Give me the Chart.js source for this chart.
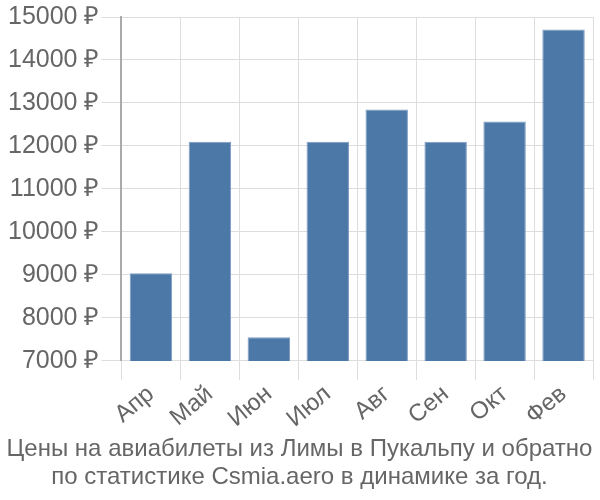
<!DOCTYPE html>
<html>
<head>
<meta charset="utf-8">
<script src="https://cdn.jsdelivr.net/npm/chart.js@4/dist/chart.umd.min.js"></script>
<style>
  html, body { margin: 0; padding: 0; background: #fff; }
  #wrap { width: 600px; height: 500px; }
</style>
</head>
<body>
<div id="wrap"><canvas id="priceChart" width="600" height="500"></canvas></div>
<script>
// --- Data ---
const months = ['Апр', 'Май', 'Июн', 'Июл', 'Авг', 'Сен', 'Окт', 'Фев'];
const prices = [9040, 12100, 7550, 12100, 12850, 12100, 12570, 14710];
const yTicks = [7000, 8000, 9000, 10000, 11000, 12000, 13000, 14000, 15000];
const titleLines = [
    'Цены на авиабилеты из Лимы в Пукальпу и обратно',
    'по статистике Csmia.aero в динамике за год.'
];

const fontFamily = '"Liberation Sans", Arial, sans-serif';

const ctx = document.getElementById('priceChart').getContext('2d');
new Chart(ctx, {
    type: 'bar',
    data: {
        labels: months,
        datasets: [{
            data: prices,
            backgroundColor: '#4c78a8',
            borderColor: '#7d9cc4',
            borderWidth: 1,
            categoryPercentage: 0.72,
            barPercentage: 1.0
        }]
    },
    options: {
        responsive: false,
        animation: false,
        layout: { padding: { left: 6, right: 7, top: 5, bottom: 8 } },
        plugins: {
            legend: { display: false },
            tooltip: { enabled: false },
            title: {
                display: true,
                position: 'bottom',
                text: titleLines,
                color: '#666',
                font: { family: fontFamily, size: 24, weight: 'normal', lineHeight: 1.18 },
                padding: { top: 2, bottom: 0 }
            }
        },
        scales: {
            x: {
                grid: { color: '#ddd', lineWidth: 1, tickLength: 19, offset: true },
                border: { color: '#ddd' },
                ticks: {
                    color: '#666',
                    font: { family: fontFamily, size: 24 },
                    maxRotation: 40,
                    minRotation: 40,
                    padding: 0
                }
            },
            y: {
                min: yTicks[0],
                max: yTicks[yTicks.length - 1],
                afterBuildTicks: (axis) => { axis.ticks = yTicks.map(v => ({ value: v })); },
                grid: { color: '#ddd', lineWidth: 1, tickLength: 20 },
                border: { color: '#aaa', width: 2 },
                ticks: {
                    color: '#666',
                    font: { family: fontFamily, size: 25 },
                    padding: 2,
                    callback: (v) => v + ' ₽'
                }
            }
        }
    }
});
</script>
</body>
</html>
